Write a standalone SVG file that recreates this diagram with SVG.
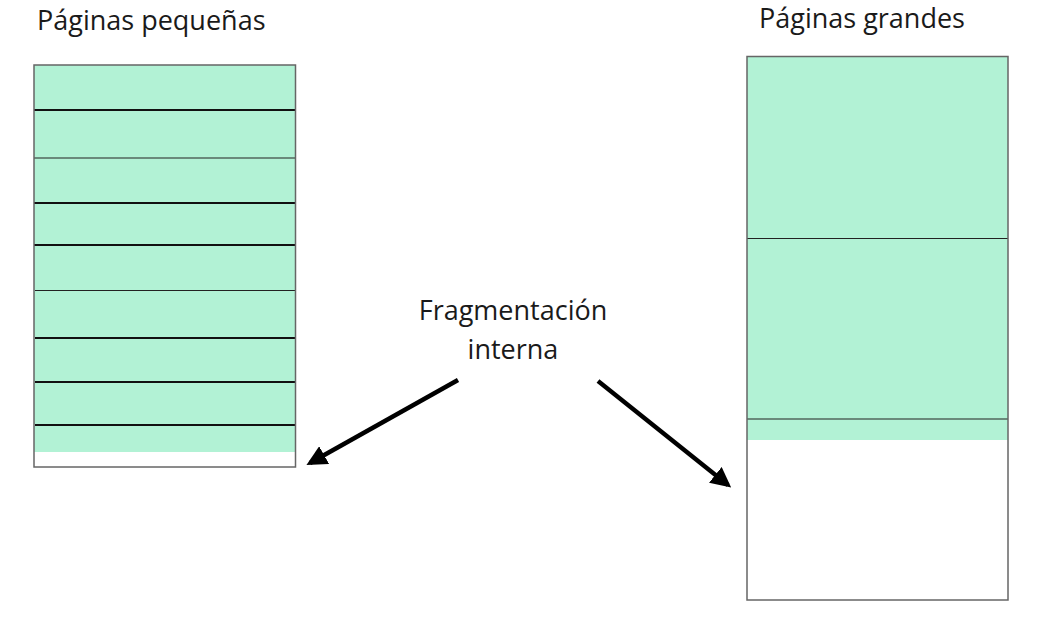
<svg xmlns="http://www.w3.org/2000/svg" width="1046" height="630" viewBox="0 0 1046 630">
<defs>
<style>
.lbl{font-family:"Open Sans","Liberation Sans",sans-serif;font-size:27px;fill:#1a1a1a}
.frame{fill:none;stroke:#666;stroke-width:1.5}
.fill{fill:#b2f2d5}
.div{stroke:#111;stroke-width:2}
.divt{stroke:#222;stroke-width:1.2}
.arrow{stroke:#000;stroke-width:4.5;fill:none;marker-end:url(#ah)}
</style>
<marker id="ah" viewBox="0 0 10 10" refX="8" refY="5" markerWidth="4.5" markerHeight="4.5" orient="auto" markerUnits="strokeWidth">
<path d="M0,0 L10,5 L0,10 z" fill="#000"/>
</marker>
</defs>
<rect width="1046" height="630" fill="#fff"/>
<g id="small-pages">
<rect class="fill" x="34" y="65" width="261.5" height="387"/>
<line class="div" x1="34" y1="110" x2="295" y2="110"/>
<line class="divt" x1="34" y1="158" x2="295" y2="158"/>
<line class="div" x1="34" y1="203" x2="295" y2="203"/>
<line class="div" x1="34" y1="245" x2="296" y2="245"/>
<line class="divt" x1="35" y1="290.5" x2="296" y2="290.5"/>
<line class="div" x1="35" y1="338" x2="296" y2="338"/>
<line class="div" x1="35" y1="382" x2="296" y2="382"/>
<line class="div" x1="35" y1="425" x2="296" y2="425"/>
<rect class="frame" x="34" y="65" width="261.5" height="402"/>
<text class="lbl" x="37" y="30">Páginas pequeñas</text>
</g>
<g id="large-pages">
<rect class="fill" x="747" y="56.5" width="261" height="383.5"/>
<line class="divt" x1="747" y1="238.5" x2="1008" y2="238.5"/>
<line class="divt" x1="747" y1="419" x2="1008" y2="419"/>
<rect class="frame" x="747" y="56.5" width="261" height="543.5"/>
<text class="lbl" x="759" y="28">Páginas grandes</text>
</g>
<g id="label">
<text class="lbl" x="513" y="320" text-anchor="middle">Fragmentación</text>
<text class="lbl" x="513" y="359" text-anchor="middle">interna</text>
</g>
<g id="connectors">
<line class="arrow" x1="458" y1="380" x2="310" y2="463"/>
<line class="arrow" x1="598" y1="381" x2="728" y2="485"/>
</g>
</svg>
